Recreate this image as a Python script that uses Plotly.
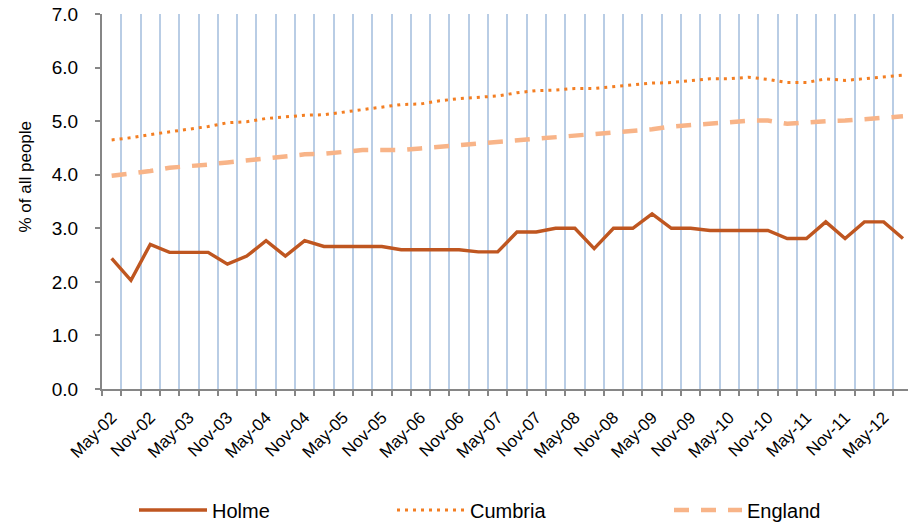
import plotly.graph_objects as go

categories = ["May-02", "Aug-02", "Nov-02", "Feb-03", "May-03", "Aug-03", "Nov-03", "Feb-04",
              "May-04", "Aug-04", "Nov-04", "Feb-05", "May-05", "Aug-05", "Nov-05", "Feb-06",
              "May-06", "Aug-06", "Nov-06", "Feb-07", "May-07", "Aug-07", "Nov-07", "Feb-08",
              "May-08", "Aug-08", "Nov-08", "Feb-09", "May-09", "Aug-09", "Nov-09", "Feb-10",
              "May-10", "Aug-10", "Nov-10", "Feb-11", "May-11", "Aug-11", "Nov-11", "Feb-12",
              "May-12", "Aug-12"]

holme = [2.44, 2.03, 2.70, 2.55, 2.55, 2.55, 2.33, 2.48, 2.77, 2.48, 2.77, 2.66, 2.66, 2.66,
         2.66, 2.60, 2.60, 2.60, 2.60, 2.56, 2.56, 2.93, 2.93, 3.00, 3.00, 2.62, 3.00, 3.00,
         3.27, 3.00, 3.00, 2.96, 2.96, 2.96, 2.96, 2.81, 2.81, 3.12, 2.81, 3.12, 3.12, 2.81]

cumbria = [4.65, 4.69, 4.75, 4.80, 4.86, 4.90, 4.97, 4.99, 5.05, 5.08, 5.11, 5.12, 5.17, 5.21,
           5.27, 5.31, 5.32, 5.38, 5.42, 5.45, 5.47, 5.53, 5.57, 5.58, 5.61, 5.61, 5.64, 5.68,
           5.71, 5.72, 5.76, 5.79, 5.79, 5.82, 5.78, 5.72, 5.72, 5.79, 5.76, 5.79, 5.83, 5.86]

england = [3.98, 4.02, 4.07, 4.13, 4.15, 4.19, 4.23, 4.27, 4.31, 4.34, 4.38, 4.39, 4.43, 4.46,
           4.46, 4.46, 4.49, 4.52, 4.56, 4.57, 4.61, 4.65, 4.68, 4.69, 4.72, 4.75, 4.79, 4.82,
           4.85, 4.90, 4.92, 4.94, 4.98, 5.01, 5.01, 4.95, 4.98, 5.00, 5.01, 5.04, 5.06, 5.09]

y_ticks = [0, 1, 2, 3, 4, 5, 6, 7]

x = list(range(len(categories)))
label_idx = x[::2]
label_txt = categories[::2]

FONT = "Liberation Sans, Arial, sans-serif"

fig = go.Figure()
fig.add_trace(go.Scatter(x=x, y=holme, mode="lines", name="Holme",
                         line=dict(color="#BF5620", width=3.4), legend="legend"))
fig.add_trace(go.Scatter(x=x, y=cumbria, mode="lines", name="Cumbria",
                         line=dict(color="#F37E22", width=3, dash="3px,5px"), legend="legend2"))
fig.add_trace(go.Scatter(x=x, y=england, mode="lines", name="England",
                         line=dict(color="#F8B488", width=4.5, dash="15px,12px"), legend="legend3"))

W, H = 908, 526
L, R, T, B = 102, 0, 14, 137
pw = W - L - R
ph = H - T - B


def px_x(p):
    return (p - L) / pw


def px_y(p):
    return (H - B - p) / ph


leg_common = dict(orientation="h", yanchor="middle", xanchor="left", itemwidth=68,
                  font=dict(family=FONT, size=20, color="#000000"),
                  bgcolor="rgba(0,0,0,0)", borderwidth=0)

fig.update_layout(
    width=W, height=H,
    margin=dict(l=L, r=R, t=T, b=B, autoexpand=False),
    paper_bgcolor="white", plot_bgcolor="white",
    font=dict(family=FONT, color="#000000"),
    showlegend=True,
    hovermode=False,
    legend=dict(x=px_x(134), y=px_y(510), **leg_common),
    legend2=dict(x=px_x(392), y=px_y(510), **leg_common),
    legend3=dict(x=px_x(669), y=px_y(510), **leg_common),
    xaxis=dict(
        range=[-0.5, 41.26],
        tickmode="array", tickvals=label_idx, ticktext=label_txt,
        tickangle=-45, tickfont=dict(family=FONT, size=17, color="#000000"),
        ticklabelstandoff=10,
        ticks="", showgrid=False, zeroline=False,
        showline=True, linecolor="#868686", linewidth=2,
        minor=dict(tick0=-0.5, dtick=1, ticks="outside", ticklen=5, tickwidth=2,
                   tickcolor="#868686", showgrid=True, gridcolor="#B9CDE5", gridwidth=2),
    ),
    yaxis=dict(
        range=[0, 7],
        tickmode="array", tickvals=y_ticks, ticktext=[f"{v:.1f}" for v in y_ticks],
        tickfont=dict(family=FONT, size=19, color="#000000"),
        ticklabelstandoff=13, ticklabeloverflow="allow",
        ticks="outside", ticklen=5, tickwidth=2, tickcolor="#868686",
        showgrid=False, zeroline=False,
        showline=True, linecolor="#868686", linewidth=2,
    ),
    annotations=[dict(text="% of all people", textangle=-90, showarrow=False,
                      xref="paper", yref="paper", x=px_x(25), y=px_y(176.5),
                      xanchor="center", yanchor="middle",
                      font=dict(family=FONT, size=17, color="#000000"))],
)

# remove the default page margin so the figure sits at the window's top-left corner
fig.write_html("out.html", config={"displayModeBar": False},
               post_script="document.body.style.margin='0px';")
